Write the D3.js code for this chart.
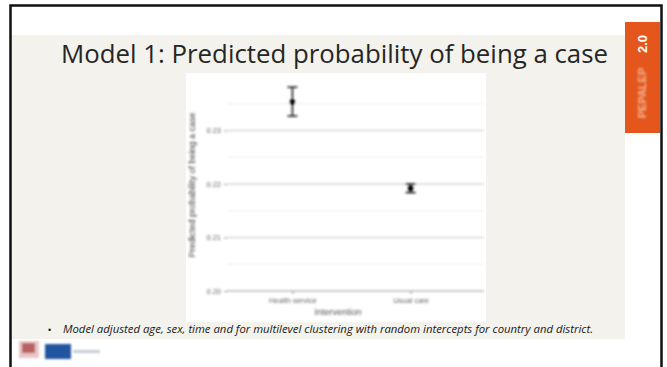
<!DOCTYPE html>
<html>
<head>
<meta charset="utf-8">
<script src="https://cdn.jsdelivr.net/npm/d3@7"></script>
<style>
  html, body { margin: 0; padding: 0; background: #ffffff; }
  svg { display: block; }
</style>
</head>
<body>
<svg id="slide" width="667" height="367"></svg>
<script>
// Predicted probability of being a case, by intervention group
const groups = ["Health service", "Usual care"];
const estimate = [0.2353, 0.2192];
const lower = [0.2327, 0.2184];
const upper = [0.2381, 0.2200];
const yTicks = [0.20, 0.21, 0.22, 0.23];
const yMinor = [0.205, 0.215, 0.225, 0.235];

const titleText = "Model 1: Predicted probability of being a case";
const noteText = "Model adjusted age, sex, time and for multilevel clustering with random intercepts for country and district.";

const svg = d3.select("#slide");
const defs = svg.append("defs");
defs.append("filter").attr("id", "soft")
  .attr("x", "-10%").attr("y", "-10%").attr("width", "120%").attr("height", "120%")
  .append("feGaussianBlur").attr("stdDeviation", 0.9);
defs.append("filter").attr("id", "softer")
  .append("feGaussianBlur").attr("stdDeviation", 1.2);

// slide background and frame
svg.append("rect").attr("x", 11).attr("y", 35).attr("width", 614).attr("height", 304)
  .attr("fill", "#f3f2ec");
svg.append("rect").attr("x", 10.5).attr("y", 5.5).attr("width", 651).attr("height", 370)
  .attr("fill", "none").attr("stroke", "#111").attr("stroke-width", 2.5);

// side badge
svg.append("rect").attr("x", 625).attr("y", 22).attr("width", 35).attr("height", 111)
  .attr("fill", "#e4561c");
svg.append("text").attr("transform", "translate(647,44) rotate(-90)")
  .attr("text-anchor", "middle").attr("font-family", "Liberation Sans, Arial, sans-serif")
  .attr("font-weight", "bold").attr("font-size", 13).attr("fill", "#ffffff").text("2.0");
svg.append("text").attr("transform", "translate(646,93) rotate(-90)")
  .attr("text-anchor", "middle").attr("font-family", "Liberation Sans, Arial, sans-serif")
  .attr("font-weight", "bold").attr("font-size", 11).attr("fill", "#f3b796")
  .attr("filter", "url(#soft)").text("PEPALEP");

// title
svg.append("text").attr("x", 61).attr("y", 63)
  .attr("font-family", "Open Sans, Lato, sans-serif").attr("font-size", 25)
  .attr("fill", "#262626").attr("textLength", 547).attr("lengthAdjust", "spacingAndGlyphs")
  .text(titleText);

// chart panel
svg.append("rect").attr("x", 186).attr("y", 73).attr("width", 300).attr("height", 249)
  .attr("fill", "#ffffff");

const chart = svg.append("g").attr("filter", "url(#soft)");

const x = d3.scalePoint().domain(groups).range([225, 478]).padding(0.57);
const y = d3.scaleLinear().domain([0.20, 0.24]).range([291, 77]);
const plotLeft = 227, plotRight = 484;

chart.selectAll("line.minor").data(yMinor).join("line")
  .attr("x1", plotLeft).attr("x2", plotRight)
  .attr("y1", d => y(d)).attr("y2", d => y(d))
  .attr("stroke", "#ececec").attr("stroke-width", 1);
chart.selectAll("line.major").data(yTicks).join("line")
  .attr("x1", plotLeft).attr("x2", plotRight)
  .attr("y1", d => y(d)).attr("y2", d => y(d))
  .attr("stroke", (d, i) => i === 0 ? "#b8b8b8" : "#d6d6d6").attr("stroke-width", 1.4);

// y axis
const yAxis = chart.append("g").attr("transform", `translate(${plotLeft},0)`)
  .call(d3.axisLeft(y).tickValues(yTicks).tickFormat(d3.format(".2f")).tickSize(3).tickPadding(3));
yAxis.select(".domain").remove();
yAxis.selectAll(".tick line").attr("stroke", "#999");
yAxis.selectAll("text").attr("font-family", "Liberation Sans, Arial, sans-serif")
  .attr("font-size", 7.5).attr("fill", "#666");

// x axis
const xAxis = chart.append("g").attr("transform", "translate(0,291)")
  .call(d3.axisBottom(x).tickSize(3).tickPadding(4));
xAxis.select(".domain").remove();
xAxis.selectAll(".tick line").attr("stroke", "#999");
xAxis.selectAll("text").attr("font-family", "Liberation Sans, Arial, sans-serif")
  .attr("font-size", 7.5).attr("fill", "#666");

// axis titles
chart.append("text").attr("transform", "translate(195,185) rotate(-90)")
  .attr("text-anchor", "middle").attr("font-family", "Liberation Sans, Arial, sans-serif")
  .attr("font-size", 9).attr("fill", "#444").text("Predicted probability of being a case");
chart.append("text").attr("x", 338).attr("y", 315)
  .attr("text-anchor", "middle").attr("font-family", "Liberation Sans, Arial, sans-serif")
  .attr("font-size", 9).attr("fill", "#555").text("Intervention");

// error bars and point estimates
const marks = chart.selectAll("g.est").data(groups).join("g");
marks.append("line")
  .attr("x1", d => x(d)).attr("x2", d => x(d))
  .attr("y1", (d, i) => y(lower[i])).attr("y2", (d, i) => y(upper[i]))
  .attr("stroke", "#111").attr("stroke-width", 1.5);
marks.append("line")
  .attr("x1", d => x(d) - 5).attr("x2", d => x(d) + 5)
  .attr("y1", (d, i) => y(upper[i])).attr("y2", (d, i) => y(upper[i]))
  .attr("stroke", "#111").attr("stroke-width", 1.5);
marks.append("line")
  .attr("x1", d => x(d) - 5).attr("x2", d => x(d) + 5)
  .attr("y1", (d, i) => y(lower[i])).attr("y2", (d, i) => y(lower[i]))
  .attr("stroke", "#111").attr("stroke-width", 1.5);
marks.append("circle")
  .attr("cx", d => x(d)).attr("cy", (d, i) => y(estimate[i]))
  .attr("r", 2.8).attr("fill", "#000");

// footnote
svg.append("text").attr("x", 48).attr("y", 333)
  .attr("font-family", "Liberation Sans, Arial, sans-serif").attr("font-size", 9)
  .attr("fill", "#222").text("•");
svg.append("text").attr("x", 63).attr("y", 333)
  .attr("font-family", "Open Sans, Liberation Sans, sans-serif").attr("font-style", "italic")
  .attr("font-size", 10.5).attr("fill", "#1a1a1a")
  .attr("textLength", 530).attr("lengthAdjust", "spacingAndGlyphs")
  .text(noteText);

// partner logos
const logos = svg.append("g").attr("filter", "url(#softer)");
logos.append("rect").attr("x", 19).attr("y", 341).attr("width", 20).attr("height", 17)
  .attr("fill", "#e9c6c6");
logos.append("rect").attr("x", 22).attr("y", 343).attr("width", 13).attr("height", 10)
  .attr("fill", "#a33a3a").attr("opacity", 0.7);
logos.append("rect").attr("x", 45).attr("y", 344).attr("width", 26).attr("height", 15)
  .attr("fill", "#2455a0");
logos.append("rect").attr("x", 73).attr("y", 350).attr("width", 27).attr("height", 3)
  .attr("fill", "#c8ccd8");
</script>
</body>
</html>
